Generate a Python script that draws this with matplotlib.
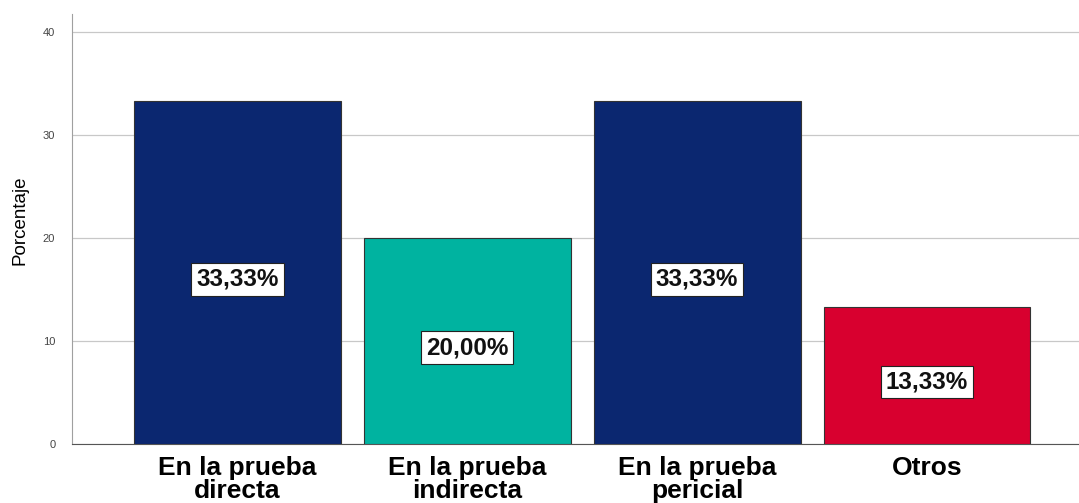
import matplotlib.pyplot as plt

plt.rcParams['font.family'] = ['Liberation Sans', 'DejaVu Sans']

categories = ["En la prueba\ndirecta", "En la prueba\nindirecta",
              "En la prueba\npericial", "Otros"]
values = [33.33, 20.00, 33.33, 13.33]
colors = ["#0b2770", "#00b3a0", "#0b2770", "#d8002f"]
y_ticks = [0, 10, 20, 30, 40]


def fmt_pct(v):
    return f"{v:.2f}".replace(".", ",") + "%"


def main():
    fig = plt.figure(figsize=(10.79, 5.03), dpi=100)
    ax = fig.add_axes([0.0667, 0.1173, 0.933, 0.855])

    x = list(range(len(categories)))
    ax.bar(x, values, width=0.9, color=colors, edgecolor="#333333",
           linewidth=0.8, zorder=3)

    for xi, v in zip(x, values):
        ax.text(xi, v / 2 - 0.65, fmt_pct(v), ha="center", va="center",
                fontsize=17.5, fontweight="bold", color="#111111", zorder=4,
                bbox=dict(boxstyle="square,pad=0.2", facecolor="white",
                          edgecolor="#222222", linewidth=0.8))

    ax.set_xlim(-0.72, 3.66)
    ax.set_ylim(0, 41.8)
    ax.set_yticks(y_ticks)
    ax.set_xticks(x)
    ax.set_xticklabels(categories, fontsize=19, fontweight="bold",
                       linespacing=0.92)
    ax.tick_params(axis="x", length=0, pad=9)
    ax.tick_params(axis="y", length=0, labelsize=8, colors="#444444", pad=12)
    ax.yaxis.grid(True, color="#c8c8c8", linewidth=0.9, zorder=0)

    ax.set_ylabel("Porcentaje", fontsize=13.5)
    ax.yaxis.set_label_coords(-0.043, 0.52)

    for side in ["top", "right"]:
        ax.spines[side].set_visible(False)
    ax.spines["left"].set_color("#a0a0a0")
    ax.spines["bottom"].set_color("#555555")

    fig.savefig("out.png", dpi=100)


if __name__ == "__main__":
    main()
